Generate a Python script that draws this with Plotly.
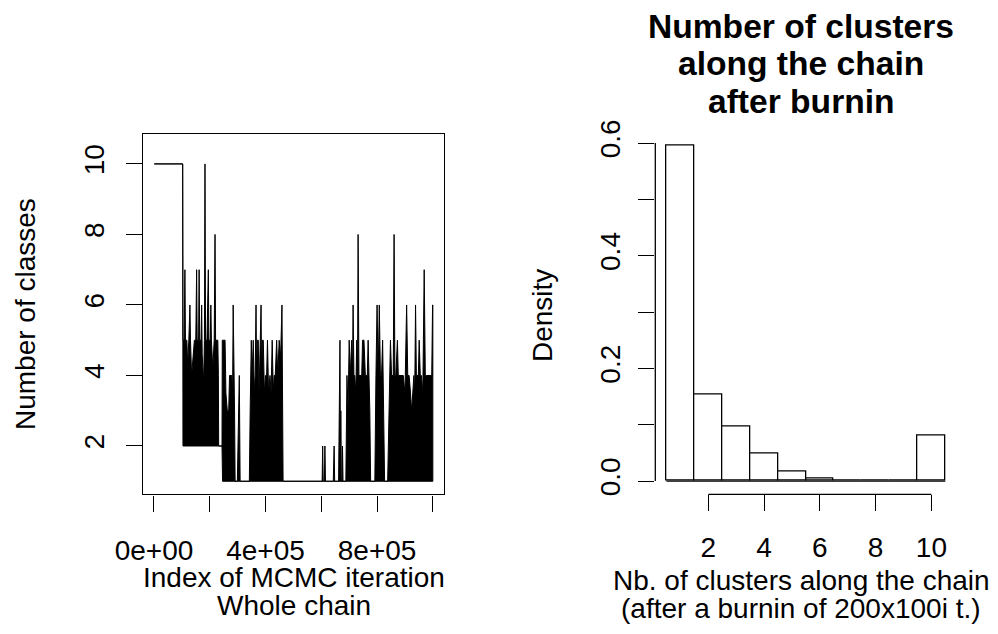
import plotly.graph_objects as go

# ---------------- data ----------------
# Whole MCMC chain, read as an upper / lower envelope of the trace
# (iteration index in thousands, number of classes)
upper_k = [1, 103, 104, 108, 111, 113, 118, 121, 125, 129, 131, 135, 140, 145, 150, 153, 155, 160, 162, 164,
           169, 171, 173, 178, 181, 183, 185, 190, 195, 197, 202, 204, 206, 211, 216, 219, 221, 229, 231, 232,
           244, 245, 250, 255, 258, 263, 268, 271, 279, 282, 284, 286, 289, 291, 299, 306, 309, 341,
           342, 345, 349, 352, 356, 360, 363, 366, 368, 371, 374, 377, 381, 384, 386, 389, 392, 396, 400, 404,
           407, 411, 416, 420, 424, 428, 431, 435, 440, 444, 449, 454, 459, 461, 463,
           601, 603, 605, 607, 611, 613, 615, 643, 646, 648, 662, 667, 669, 670, 672, 675, 676, 678, 688,
           692, 696, 700, 704, 709, 712, 714, 717, 720, 724, 727, 730, 732, 735, 741, 745, 748, 753, 758, 762,
           765, 768, 771, 774, 777, 792, 796, 800, 804, 808, 812, 816, 820, 824, 827, 838, 843, 848, 852, 855,
           858, 861, 864, 867, 873, 876, 879, 884, 888, 894, 900, 906, 910, 915, 920, 924, 928, 932, 935, 938,
           941, 944, 948, 951, 955, 959, 964, 969, 973, 977, 983, 988, 992, 996, 999, 1000]
upper_v = [10, 10, 5, 5, 7, 5, 5, 4.3, 5, 6, 5, 4, 4.5, 5, 5, 7, 5, 5, 7, 5,
           5, 6, 4.6, 3.8, 5, 10, 5, 5, 7, 5, 5, 6, 5, 4.2, 5, 8, 5, 5, 4, 2,
           2, 5, 5, 5, 3.5, 3, 3, 4, 4, 3.5, 6, 3.5, 3, 1, 1, 4, 1, 1,
           1, 3, 5, 4, 5, 3.5, 4, 6, 4, 5, 5, 3.5, 5, 6, 4, 5, 5, 3.5, 4, 4,
           5, 3.5, 4, 3.5, 5, 3.5, 4, 4, 5, 4, 5, 4.5, 6, 2, 1,
           1, 1, 2, 1, 1, 2, 1, 1, 2, 1, 1, 5, 1, 3, 1, 1, 2, 1, 1,
           4, 3, 5, 4, 5, 4, 6, 4, 4, 3.5, 5, 4, 8, 4, 4, 4, 5, 5, 4, 4,
           4, 5, 4, 3, 1, 1, 4, 6, 4, 6, 4, 4, 5, 3, 1, 1, 3, 5, 4, 4,
           4, 8, 4, 4, 5, 4, 4, 4, 4, 4, 3.5, 6, 4, 4, 3.5, 3, 3.5, 4, 3.5, 6,
           4, 4, 4, 5, 4, 4, 3.5, 7, 4, 4, 4, 4, 4, 4, 6, 6]
lower_k = [1, 103, 104, 232, 244, 246, 1000]
lower_v = [10, 10, 2, 2, 2, 1, 1]

# Histogram of the number of clusters after burn-in
hist_centers = [1, 2, 3, 4, 5, 6, 7, 8, 9, 10]
hist_density = [0.595, 0.153, 0.0965, 0.049, 0.017, 0.004, 0.0015, 0.0005, 0.0, 0.081]

left_xticks = [0, 200000, 400000, 600000, 800000, 1000000]
left_xticklabels = ["0e+00", "", "4e+05", "", "8e+05", ""]
left_yticks = [2, 4, 6, 8, 10]
right_xticks = [2, 4, 6, 8, 10]
right_yticks = [0.0, 0.1, 0.2, 0.3, 0.4, 0.5, 0.6]
right_yticklabels = ["0.0", "", "0.2", "", "0.4", "", "0.6"]

title_lines = ["Number of clusters", "along the chain", "after burnin"]
left_xlab = ["Index of MCMC iteration", "Whole chain"]
right_xlab = ["Nb. of clusters along the chain", "(after a burnin of 200x100i t.)"]

# ---------------- figure ----------------
W, H = 998, 634
OFF = 8  # page body margin
FONT = "Liberation Sans, Arial, Helvetica, sans-serif"
FS = 28


def px(x):
    return (x - OFF) / W


def py(y):
    return 1 - (y - OFF) / H


fig = go.Figure()

poly_x = [k * 1000 for k in upper_k] + [k * 1000 for k in lower_k[::-1]]
poly_y = upper_v + lower_v[::-1]
fig.add_trace(go.Scatter(x=poly_x, y=poly_y, mode="lines", fill="toself",
                         fillcolor="black", line=dict(color="black", width=1),
                         xaxis="x", yaxis="y", hoverinfo="skip"))

fig.add_trace(go.Bar(x=hist_centers, y=hist_density, width=1,
                     marker=dict(color="white", line=dict(color="black", width=1.3)),
                     xaxis="x2", yaxis="y2"))

ydom = [py(494.4), py(133.6)]
axis_common = dict(showgrid=False, zeroline=False, ticks="outside", ticklen=16,
                   tickwidth=1.3, tickcolor="black", automargin=False,
                   tickfont=dict(family=FONT, size=FS, color="black"))

fig.update_layout(
    template="none",
    width=W, height=H, margin=dict(l=0, r=0, t=0, b=0, pad=0), autosize=False,
    paper_bgcolor="white", plot_bgcolor="white", showlegend=False,
    font=dict(family=FONT, size=FS, color="black"),
    bargap=0,
    xaxis=dict(domain=[px(142.8), px(444)], range=[-40000, 1040000],
               tickmode="array", tickvals=left_xticks, ticktext=left_xticklabels,
               showline=True, mirror=True, linecolor="black", linewidth=1.3,
               anchor="y", ticklabelstandoff=15, **axis_common),
    yaxis=dict(domain=ydom, range=[0.627, 10.86],
               tickmode="array", tickvals=left_yticks, ticktext=[str(v) for v in left_yticks],
               tickangle=-90, showline=True, mirror=True, linecolor="black", linewidth=1.3,
               anchor="x", ticklabelstandoff=10, **axis_common),
    xaxis2=dict(domain=[px(655.3), px(956.5)], range=[0.1, 10.9],
                tickmode="array", tickvals=right_xticks, ticktext=[str(v) for v in right_xticks],
                showline=False, anchor="y2", ticklabelstandoff=12, **axis_common),
    yaxis2=dict(domain=ydom, range=[-0.0237, 0.6167],
                tickmode="array", tickvals=right_yticks, ticktext=right_yticklabels,
                tickangle=-90, showline=False, anchor="x2", ticklabelstandoff=7,
                **axis_common),
)

# R-style axis lines spanning only first..last tick
fig.add_shape(type="line", xref="x2", yref="y2 domain",
              x0=right_xticks[0], x1=right_xticks[-1], y0=0, y1=0,
              line=dict(color="black", width=1.3))
fig.add_shape(type="line", xref="x2 domain", yref="y2",
              x0=0, x1=0, y0=right_yticks[0], y1=right_yticks[-1],
              line=dict(color="black", width=1.3))
# baseline of the histogram (covers empty bins)
fig.add_shape(type="line", xref="x2", yref="y2",
              x0=hist_centers[0] - 0.5, x1=hist_centers[-1] + 0.5, y0=0, y1=0,
              line=dict(color="black", width=1.3))

ann = []
for i, t in enumerate(title_lines):
    ann.append(dict(text="<b>%s</b>" % t, x=px(801), y=py(26 + 37.7 * i), xref="paper", yref="paper",
                    xanchor="center", yanchor="middle", showarrow=False,
                    font=dict(family=FONT, size=33.6, color="black")))
for i, t in enumerate(left_xlab):
    ann.append(dict(text=t, x=px(294), y=py(577 + 28.3 * i), xref="paper", yref="paper",
                    xanchor="center", yanchor="middle", showarrow=False,
                    font=dict(family=FONT, size=FS, color="black")))
for i, t in enumerate(right_xlab):
    ann.append(dict(text=t, x=px(801), y=py(580 + 28.3 * i), xref="paper", yref="paper",
                    xanchor="center", yanchor="middle", showarrow=False,
                    font=dict(family=FONT, size=FS, color="black")))
ann.append(dict(text="Number of classes", x=px(25), y=py(314), xref="paper", yref="paper",
                xanchor="center", yanchor="middle", textangle=-90, showarrow=False,
                font=dict(family=FONT, size=FS, color="black")))
ann.append(dict(text="Density", x=px(542), y=py(316), xref="paper", yref="paper",
                xanchor="center", yanchor="middle", textangle=-90, showarrow=False,
                font=dict(family=FONT, size=FS, color="black")))
fig.update_layout(annotations=ann)

fig.write_html("out.html")
